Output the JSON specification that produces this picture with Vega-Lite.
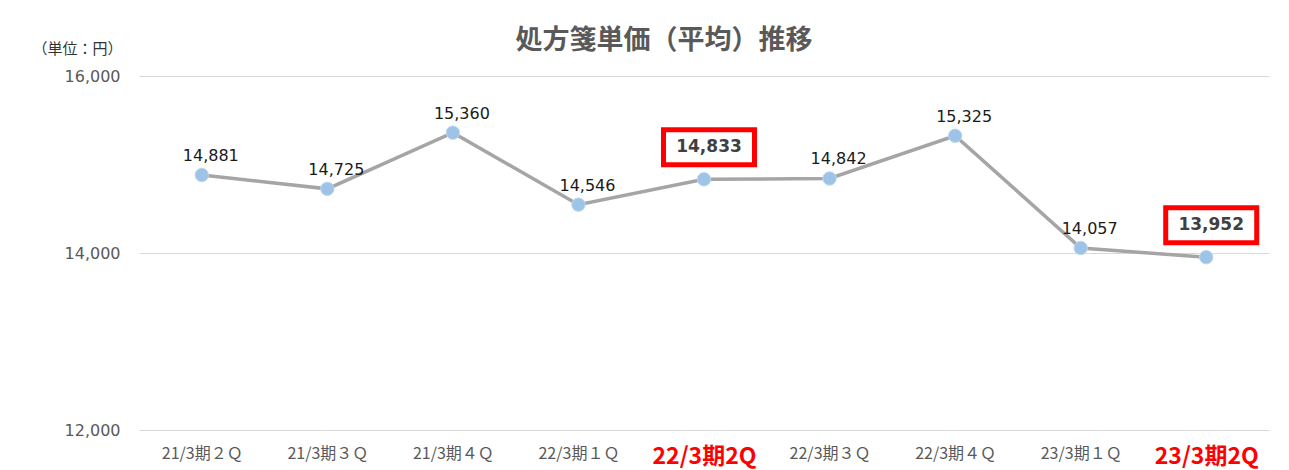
{
  "$schema": "https://vega.github.io/schema/vega-lite/v6.json",
  "width": 1130,
  "height": 354,
  "autosize": {"type": "none"},
  "padding": {"left": 139, "top": 76, "right": 20, "bottom": 40},
  "background": "white",
  "title": {
    "text": "処方箋単価（平均）推移",
    "font": "Noto Sans CJK JP",
    "fontSize": 27,
    "fontWeight": "bold",
    "color": "#595959",
    "anchor": "middle",
    "dx": -40,
    "offset": 0,
    "dy": 14
  },
  "data": {
    "values": [
      {"period": "21/3期２Ｑ", "value": 14881, "hl": false},
      {"period": "21/3期３Ｑ", "value": 14725, "hl": false},
      {"period": "21/3期４Ｑ", "value": 15360, "hl": false},
      {"period": "22/3期１Ｑ", "value": 14546, "hl": false},
      {"period": "22/3期2Q", "value": 14833, "hl": true},
      {"period": "22/3期３Ｑ", "value": 14842, "hl": false},
      {"period": "22/3期４Ｑ", "value": 15325, "hl": false},
      {"period": "23/3期１Ｑ", "value": 14057, "hl": false},
      {"period": "23/3期2Q", "value": 13952, "hl": true}
    ]
  },
  "encoding": {
    "x": {
      "field": "period",
      "type": "ordinal",
      "sort": null,
      "scale": {"type": "point", "padding": 0.5},
      "axis": {
        "title": null,
        "domain": false,
        "ticks": false,
        "grid": false,
        "labelAngle": 0,
        "labelPadding": 15,
        "labelFont": "Noto Sans CJK JP",
        "labelFontSize": {"expr": "indexof(['22/3期2Q','23/3期2Q'], datum.value) >= 0 ? 23 : 16"},
        "labelFontWeight": {"expr": "indexof(['22/3期2Q','23/3期2Q'], datum.value) >= 0 ? 'bold' : 'normal'"},
        "labelColor": {"expr": "indexof(['22/3期2Q','23/3期2Q'], datum.value) >= 0 ? '#ff0000' : '#595959'"}
      }
    },
    "y": {
      "field": "value",
      "type": "quantitative",
      "scale": {"domain": [12000, 16000], "zero": false, "nice": false},
      "axis": {
        "values": [12000, 14000, 16000],
        "format": ",.0f",
        "domain": false,
        "ticks": false,
        "gridColor": "#d9d9d9",
        "gridWidth": 1,
        "labelFont": "DejaVu Sans",
        "labelFontSize": 16,
        "labelColor": "#595959",
        "labelPadding": 19,
        "title": "（単位：円）",
        "titleAngle": 0,
        "titleX": -62,
        "titleY": -28,
        "titleAlign": "center",
        "titleBaseline": "middle",
        "titleFont": "Noto Sans CJK JP",
        "titleFontSize": 15,
        "titleFontWeight": "normal",
        "titleColor": "#333333"
      }
    }
  },
  "layer": [
    {
      "mark": {"type": "line", "color": "#a5a5a5", "strokeWidth": 3.5}
    },
    {
      "mark": {"type": "point", "filled": true, "shape": "circle", "size": 180, "color": "#9dc3e6", "opacity": 1, "stroke": "#bdd7ee", "strokeWidth": 1}
    },
    {
      "transform": [{"filter": "!datum.hl"}],
      "mark": {"type": "text", "baseline": "bottom", "align": "center", "dx": 9, "dy": -11, "font": "DejaVu Sans", "fontSize": 16, "color": "#1a1a1a"},
      "encoding": {"text": {"field": "value", "type": "quantitative", "format": ",.0f"}}
    },
    {
      "transform": [{"filter": "datum.hl"}],
      "mark": {"type": "point", "shape": "M-1,-0.385H1V0.385H-1Z", "size": 8281, "filled": false, "stroke": "#ff0000", "strokeWidth": 5, "opacity": 1, "xOffset": 5, "yOffset": -32, "fill": "white", "fillOpacity": 1}
    },
    {
      "transform": [{"filter": "datum.hl"}],
      "mark": {"type": "text", "baseline": "middle", "align": "center", "dx": 5, "dy": -32, "font": "DejaVu Sans", "fontSize": 17, "fontWeight": "bold", "color": "#404040"},
      "encoding": {"text": {"field": "value", "type": "quantitative", "format": ",.0f"}}
    }
  ],
  "config": {"view": {"stroke": null}}
}
